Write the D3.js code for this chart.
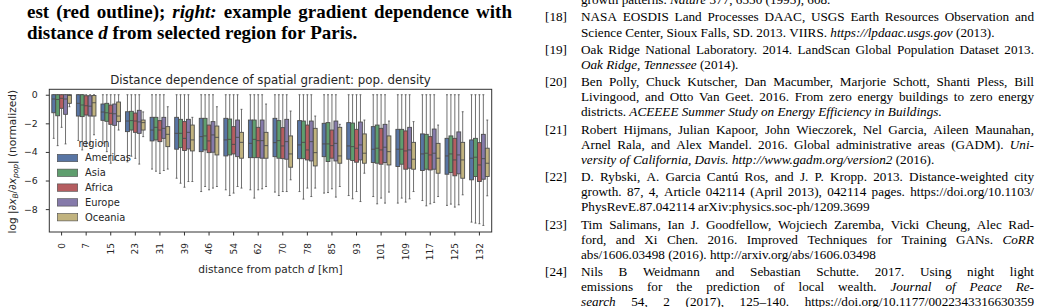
<!DOCTYPE html>
<html><head><meta charset="utf-8">
<script src="https://cdn.jsdelivr.net/npm/d3@7"></script>
<style>
html,body{margin:0;padding:0;background:#fff;}
svg{display:block;}
</style></head>
<body>
<svg id="chart" width="1044" height="307"></svg>
<script>
// ---------------- data ----------------
const regions = ["Americas", "Asia", "Africa", "Europe", "Oceania"];
const distances = ["0","7","15","23","31","39","46","54","62","70","78","85","93","101","109","117","125","132"];
const yTicks = [0, -2, -4, -6, -8];
// each entry: [whiskerLow, Q1, median, Q3, whiskerHigh]
const americas = [
  [-3.05,-1.26,-0.30,0,0],[-3.20,-1.49,-0.60,0,0],[-3.40,-1.79,-1.21,-0.65,0],[-4.70,-2.58,-1.84,-1.19,0],
  [-5.20,-3.23,-2.47,-1.58,0],[-5.84,-3.81,-2.70,-1.58,0],[-6.77,-3.98,-2.93,-1.65,0],[-6.65,-4.28,-3.16,-1.65,0],
  [-6.65,-4.40,-3.40,-1.77,0],[-6.81,-4.33,-3.35,-1.65,0],[-6.77,-4.47,-3.51,-1.81,0],[-6.88,-4.33,-3.44,-2.00,0],
  [-7.05,-4.51,-3.58,-1.95,0],[-7.12,-4.74,-3.81,-2.23,0],[-7.58,-5.02,-3.81,-2.42,0],[-7.40,-5.30,-4.14,-2.74,0],
  [-7.74,-5.56,-4.28,-3.05,0],[-8.91,-5.95,-4.44,-3.16,0]];
const asia = [
  [-3.56,-1.47,-0.33,0,0],[-3.86,-1.53,-0.72,0,0],[-3.98,-1.86,-1.26,-0.60,0],[-4.30,-2.47,-1.81,-1.16,0],
  [-5.35,-3.16,-2.28,-1.58,0],[-6.19,-3.70,-2.70,-1.72,0],[-6.42,-3.86,-2.88,-1.65,0],[-7.05,-4.21,-3.12,-1.70,0],
  [-7.23,-4.40,-3.12,-1.77,0],[-7.05,-4.44,-3.21,-1.81,0],[-7.30,-4.47,-3.33,-1.84,0],[-6.84,-4.67,-3.44,-1.95,0],
  [-7.28,-4.60,-3.63,-1.98,0],[-7.63,-4.79,-3.74,-2.12,0],[-7.23,-4.86,-3.81,-2.42,0],[-7.77,-5.21,-4.09,-2.77,0],
  [-7.65,-5.44,-4.14,-2.88,0],[-8.98,-5.72,-4.37,-3.05,0]];
const africa = [
  [-2.28,-0.95,-0.25,0,0],[-3.60,-1.42,-0.77,-0.07,0],[-4.79,-2.07,-1.30,-0.72,0],[-4.45,-2.63,-1.84,-1.28,0],
  [-5.50,-3.28,-2.47,-1.81,0],[-6.47,-3.90,-3.05,-1.88,0],[-6.65,-4.05,-3.23,-2.12,0],[-6.88,-4.14,-3.47,-2.23,0],
  [-6.65,-4.40,-3.21,-2.28,0],[-6.77,-4.47,-3.58,-2.30,0],[-6.53,-4.56,-3.86,-2.12,0],[-6.58,-4.44,-3.56,-2.47,0],
  [-6.77,-4.72,-3.74,-2.42,0],[-7.23,-4.86,-3.86,-2.35,0],[-7.51,-5.21,-3.93,-2.53,0],[-7.63,-5.26,-4.21,-2.93,0],
  [-7.86,-5.67,-4.56,-3.05,0],[-9.02,-6.07,-4.91,-3.35,0]];
const europe = [
  [-3.44,-1.37,-0.30,0,0],[-3.50,-1.49,-0.80,-0.07,0],[-4.56,-2.14,-1.33,-0.65,0],[-4.85,-2.70,-1.90,-1.09,0],
  [-5.30,-3.05,-2.35,-1.58,0],[-6.07,-3.79,-2.63,-1.72,0],[-6.53,-4.02,-2.81,-1.88,0],[-6.42,-4.33,-2.98,-1.77,0],
  [-6.58,-4.44,-3.21,-1.77,0],[-6.77,-4.51,-3.28,-1.72,0],[-7.12,-4.63,-3.28,-1.84,0],[-7.16,-4.63,-3.40,-1.84,0],
  [-7.47,-4.56,-3.51,-1.91,0],[-7.58,-4.74,-3.67,-2.07,0],[-7.28,-5.14,-3.86,-2.28,0],[-7.53,-5.21,-4.09,-2.40,0],
  [-7.70,-5.53,-4.21,-2.60,0],[-9.14,-5.91,-4.47,-2.77,0]];
const oceania = [
  [-0.84,-0.60,-0.05,0,0],[-2.80,-1.49,-0.56,-0.05,0],[-2.47,-1.88,-1.49,-0.51,0],[-2.93,-2.47,-1.95,-1.77,-1.20],
  [-5.20,-3.63,-2.77,-2.23,-0.84],[-6.07,-3.93,-3.16,-2.12,-1.58],[-6.42,-4.21,-2.98,-2.19,-0.84],[-6.53,-4.44,-3.33,-2.63,-1.02],
  [-6.42,-4.44,-3.56,-2.63,-0.65],[-5.95,-5.07,-4.14,-2.88,-1.14],[-6.53,-4.98,-4.05,-2.35,-1.49],[-6.42,-4.79,-4.28,-2.28,-2.07],
  [-5.49,-4.79,-4.09,-2.74,-1.77],[-6.81,-4.91,-3.98,-2.88,-1.84],[-6.77,-5.21,-4.51,-3.33,-1.88],[-7.12,-5.49,-4.44,-3.40,-2.12],
  [-7.00,-5.84,-4.56,-3.33,-1.19],[-7.07,-5.72,-4.79,-3.74,-1.77]];
const seriesByRegion = [americas, asia, africa, europe, oceania];
const regionColors = ["#5875a4", "#5f9e6e", "#b55d60", "#857aaa", "#c1b37f"];

// surrounding page text
const captionLines = [
  {text: "est (red outline); *right:* example gradient dependence with", justify: true},
  {text: "distance *d* from selected region for Paris.", justify: false}
];
const refLines = [
  {label: null, text: "growth patterns. *Nature* 377, 6550 (1995), 608.", justify: false, gap: false},
  {label: "[18]", text: "NASA EOSDIS Land Processes DAAC, USGS Earth Resources Observation and", justify: true, gap: true},
  {label: null, text: "Science Center, Sioux Falls, SD. 2013. VIIRS. *https://lpdaac.usgs.gov* (2013).", justify: false},
  {label: "[19]", text: "Oak Ridge National Laboratory. 2014. LandScan Global Population Dataset 2013.", justify: true, gap: true},
  {label: null, text: "*Oak Ridge, Tennessee* (2014).", justify: false},
  {label: "[20]", text: "Ben Polly, Chuck Kutscher, Dan Macumber, Marjorie Schott, Shanti Pless, Bill", justify: true, gap: true},
  {label: null, text: "Livingood, and Otto Van Geet. 2016. From zero energy buildings to zero energy", justify: true},
  {label: null, text: "districts. *ACEEEE Summer Study on Energy Efficiency in Buildings.*", justify: false},
  {label: "[21]", text: "Robert Hijmans, Julian Kapoor, John Wieczorek, Nel Garcia, Aileen Maunahan,", justify: true, gap: true},
  {label: null, text: "Arnel Rala, and Alex Mandel. 2016. Global administrative areas (GADM). *Uni-*", justify: true},
  {label: null, text: "*versity of California, Davis. http://www.gadm.org/version2* (2016).", justify: false},
  {label: "[22]", text: "D. Rybski, A. Garcia Cantú Ros, and J. P. Kropp. 2013. Distance-weighted city", justify: true, gap: true},
  {label: null, text: "growth. 87, 4, Article 042114 (April 2013), 042114 pages. https://doi.org/10.1103/", justify: true},
  {label: null, text: "PhysRevE.87.042114 arXiv:physics.soc-ph/1209.3699", justify: false},
  {label: "[23]", text: "Tim Salimans, Ian J. Goodfellow, Wojciech Zaremba, Vicki Cheung, Alec Rad-", justify: true, gap: true},
  {label: null, text: "ford, and Xi Chen. 2016. Improved Techniques for Training GANs. *CoRR*", justify: true},
  {label: null, text: "abs/1606.03498 (2016). http://arxiv.org/abs/1606.03498", justify: false},
  {label: "[24]", text: "Nils B Weidmann and Sebastian Schutte. 2017. Using night light", justify: true, gap: true},
  {label: null, text: "emissions for the prediction of local wealth. *Journal of Peace Re-*", justify: true},
  {label: null, text: "*search* 54, 2 (2017), 125–140. https://doi.org/10.1177/0022343316630359", justify: true}
];

// ---------------- drawing ----------------
const svg = d3.select("#chart");
svg.append("rect").attr("width", 1044).attr("height", 307).attr("fill", "#fff");

const SERIF = "'Liberation Serif', 'Times New Roman', serif";
const SANS = "'DejaVu Sans', sans-serif";

function tokenize(str) {
  const toks = []; let cur = ""; let it = false; let curIt = false;
  for (const ch of str) {
    if (ch === "*") { if (cur) { toks.push({t: cur, i: curIt}); cur = ""; } it = !it; curIt = it; continue; }
    if (ch === " ") { if (cur) { toks.push({t: cur, i: curIt}); cur = ""; } curIt = it; continue; }
    if (!cur) curIt = it;
    cur += ch;
  }
  if (cur) toks.push({t: cur, i: curIt});
  return toks;
}
const measurer = svg.append("text").attr("x", -1000).attr("y", -1000);
function measure(t, size, weight, italic) {
  measurer.attr("font-family", SERIF).attr("font-size", size).attr("font-weight", weight)
    .attr("font-style", italic ? "italic" : "normal").text(t);
  return measurer.node().getComputedTextLength();
}
function setLine(g, toks, x0, x1, yb, size, weight, justify) {
  const widths = toks.map(d => measure(d.t, size, weight, d.i));
  const total = d3.sum(widths);
  let gapW = size * 0.25;
  if (justify && toks.length > 1) gapW = (x1 - x0 - total) / (toks.length - 1);
  let x = x0;
  toks.forEach((d, k) => {
    g.append("text").attr("x", x).attr("y", yb)
      .attr("font-family", SERIF).attr("font-size", size).attr("font-weight", weight)
      .attr("font-style", d.i ? "italic" : "normal").attr("fill", "#000").text(d.t);
    x += widths[k] + gapW;
  });
}

// caption (left column)
const capG = svg.append("g");
const capSize = 19, capX0 = 27, capX1 = 512;
captionLines.forEach((ln, k) => {
  setLine(capG, tokenize(ln.text), capX0, capX1, 17.5 + k * 21.7, capSize, "bold", ln.justify);
});

// references (right column)
const refG = svg.append("g");
const refSize = 13.2, labelX = 545, textX = 581, rightX = 1034;
let yb = 4.2;
refLines.forEach((ln, k) => {
  if (k > 0) yb += 15.1 + (ln.gap ? 2.15 : 0);
  if (ln.label) refG.append("text").attr("x", labelX).attr("y", yb)
    .attr("font-family", SERIF).attr("font-size", refSize).attr("fill", "#000").text(ln.label);
  setLine(refG, tokenize(ln.text), textX, rightX, yb, refSize, "normal", ln.justify);
});
measurer.remove();

// ---------------- chart ----------------
const L = 49.3, R = 491.7, T = 89.3, B = 232;
const txtCol = "#262626", lineCol = "#4c4c4c";
const x = d3.scaleBand().domain(distances).range([L, R]).padding(0);
const hue = d3.scaleBand().domain(regions).range([-0.4 * x.bandwidth(), 0.4 * x.bandwidth()]).padding(0);
const y = d3.scaleLinear().domain([-9.6, 0.38]).range([B, T]);
const bw = hue.bandwidth() * 0.98;

const chart = svg.append("g");
regions.forEach((reg, ri) => {
  const data = seriesByRegion[ri];
  const gg = chart.append("g");
  data.forEach((s, di) => {
    const cx = x(distances[di]) + x.bandwidth() / 2 + hue(reg) + hue.bandwidth() / 2;
    const [lo, q1, med, q3, hi] = s;
    const g = gg.append("g").attr("stroke", lineCol);
    g.append("line").attr("x1", cx).attr("x2", cx).attr("y1", y(q1)).attr("y2", y(lo)).attr("stroke-width", 0.8);
    g.append("line").attr("x1", cx).attr("x2", cx).attr("y1", y(q3)).attr("y2", y(hi)).attr("stroke-width", 0.8);
    g.append("line").attr("x1", cx - bw / 4).attr("x2", cx + bw / 4).attr("y1", y(lo)).attr("y2", y(lo)).attr("stroke-width", 0.8);
    g.append("line").attr("x1", cx - bw / 4).attr("x2", cx + bw / 4).attr("y1", y(hi)).attr("y2", y(hi)).attr("stroke-width", 0.8);
    g.append("rect").attr("x", cx - bw / 2).attr("width", bw)
      .attr("y", y(q3)).attr("height", Math.max(0.5, y(q1) - y(q3)))
      .attr("fill", regionColors[ri]).attr("stroke-width", 0.9);
    g.append("line").attr("x1", cx - bw / 2).attr("x2", cx + bw / 2).attr("y1", y(med)).attr("y2", y(med)).attr("stroke-width", 0.9);
  });
});

// frame
chart.append("rect").attr("x", L).attr("y", T).attr("width", R - L).attr("height", B - T)
  .attr("fill", "none").attr("stroke", "#333").attr("stroke-width", 1);

// y axis
const yAxis = chart.append("g").attr("transform", `translate(${L},0)`)
  .call(d3.axisLeft(y).tickValues(yTicks).tickSize(3.5).tickPadding(8).tickFormat(d3.format("d")));
yAxis.select(".domain").remove();
yAxis.selectAll(".tick line").attr("stroke", "#333");
yAxis.selectAll(".tick text").attr("font-family", SANS).attr("font-size", 9.4).attr("fill", txtCol);

// x axis
const xAxis = chart.append("g").attr("transform", `translate(0,${B})`)
  .call(d3.axisBottom(x).tickSize(3.5).tickFormat(""));
xAxis.select(".domain").remove();
xAxis.selectAll(".tick line").attr("stroke", "#333");
xAxis.selectAll(".tick").append("text")
  .attr("transform", "translate(0,11) rotate(-90)")
  .attr("text-anchor", "end").attr("dy", "0.35em")
  .attr("font-family", SANS).attr("font-size", 9).attr("fill", txtCol)
  .text(d => d);

// title
chart.append("text").attr("x", (L + R) / 2).attr("y", 83.5).attr("text-anchor", "middle")
  .attr("font-family", SANS).attr("font-size", 11.8).attr("fill", txtCol)
  .text("Distance dependence of spatial gradient: pop. density");

// x label
const xl = chart.append("text").attr("x", (L + R) / 2).attr("y", 272.5).attr("text-anchor", "middle")
  .attr("font-family", SANS).attr("font-size", 10.6).attr("fill", txtCol);
xl.append("tspan").text("distance from patch ");
xl.append("tspan").attr("font-style", "italic").text("d");
xl.append("tspan").text(" [km]");

// y label
const yl = chart.append("text").attr("transform", `translate(15.5,${(T + B) / 2 + 1}) rotate(-90)`)
  .attr("text-anchor", "middle").attr("font-family", SANS).attr("font-size", 10.6).attr("fill", txtCol);
yl.append("tspan").text("log |∂");
yl.append("tspan").attr("font-style", "italic").text("x");
yl.append("tspan").attr("font-style", "italic").attr("font-size", 7.5).attr("dy", 2).text("B");
yl.append("tspan").attr("dy", -2).text("/∂");
yl.append("tspan").attr("font-style", "italic").text("x");
yl.append("tspan").attr("font-style", "italic").attr("font-size", 7.5).attr("dy", 2).text("pop");
yl.append("tspan").attr("dy", -2).text("| (normalized)");

// legend
const leg = chart.append("g");
leg.append("text").attr("x", 94).attr("y", 146.5).attr("text-anchor", "middle")
  .attr("font-family", SANS).attr("font-size", 9.8).attr("fill", txtCol).text("region");
regions.forEach((reg, ri) => {
  const cy = 158 + ri * 14.8;
  leg.append("rect").attr("x", 57.3).attr("y", cy - 3.7).attr("width", 20.4).attr("height", 7.4)
    .attr("fill", regionColors[ri]).attr("stroke", lineCol).attr("stroke-width", 0.6);
  leg.append("text").attr("x", 85).attr("y", cy).attr("dy", "0.35em")
    .attr("font-family", SANS).attr("font-size", 9.9).attr("fill", txtCol).text(reg);
});
</script>
</body></html>
